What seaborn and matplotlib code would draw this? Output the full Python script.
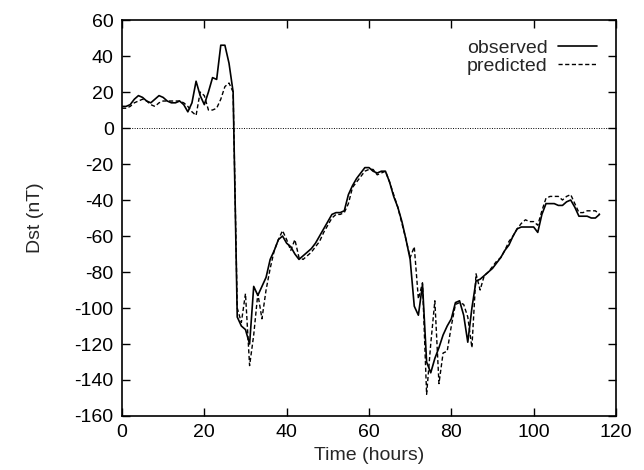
import numpy as np
import pandas as pd
import matplotlib
matplotlib.use("Agg")
import matplotlib.pyplot as plt
import seaborn as sns

# ── Data (hourly samples) ─────────────────────────────────────────────────
hours = list(range(117))

observed = [
    12, 12, 13, 16, 18, 17, 15, 14, 16, 18,      # 0-9
    17, 15, 14, 14, 15, 13, 9, 14, 26, 18,       # 10-19
    13, 20, 28, 27, 46, 46, 36, 20, -105, -110,  # 20-29
    -112, -120, -88, -93, -88, -83, -73, -68, -62, -60,   # 30-39
    -64, -66, -70, -73, -71, -69, -67, -64, -60, -56,     # 40-49
    -52, -48, -47, -47, -46, -37, -32, -28, -25, -22,     # 50-59
    -22, -24, -25, -24, -24, -30, -38, -44, -52, -62,     # 60-69
    -73, -99, -104, -87, -130, -136, -128, -122, -115, -110,  # 70-79
    -106, -97, -96, -104, -119, -100, -85, -84, -82, -80,     # 80-89
    -78, -75, -72, -68, -65, -60, -56, -55, -55, -55,         # 90-99
    -55, -58, -48, -42, -42, -42, -43, -43, -41, -40,         # 100-109
    -44, -49, -49, -49, -50, -50, -48,                        # 110-116
]

predicted = [
    11, 11, 12, 14, 15, 16, 15, 13, 12, 14,      # 0-9
    15, 15, 15, 15, 15, 14, 12, 9, 7, 20,        # 10-19
    18, 10, 10, 11, 16, 23, 25, 20, -100, -108,  # 20-29
    -92, -132, -115, -92, -106, -90, -78, -68, -62, -57,  # 30-39
    -62, -68, -62, -72, -73, -71, -69, -66, -63, -58,     # 40-49
    -54, -50, -48, -48, -47, -42, -33, -30, -27, -24,     # 50-59
    -23, -23, -26, -25, -24, -30, -37, -44, -53, -62,     # 60-69
    -72, -66, -95, -86, -148, -120, -96, -142, -125, -124,  # 70-79
    -110, -98, -97, -98, -105, -122, -81, -90, -82, -80,    # 80-89
    -77, -74, -72, -68, -63, -60, -56, -53, -51, -52,       # 90-99
    -52, -54, -46, -39, -38, -38, -38, -40, -38, -37,       # 100-109
    -42, -47, -47, -46, -46, -46, -48,                      # 110-116
]

df = pd.DataFrame({"hour": hours, "observed": observed, "predicted": predicted})

# ── Style ─────────────────────────────────────────────────────────────────
sns.set_style("ticks")
plt.rcParams["font.family"] = ["Liberation Sans", "DejaVu Sans"]
plt.rcParams["font.size"] = 14
plt.rcParams["axes.unicode_minus"] = False

fig = plt.figure(figsize=(6.44, 4.70), dpi=100)
ax = fig.add_axes([0.1894, 0.1149, 0.7671, 0.8425])

ax.axhline(0, color="black", lw=0.7, ls=(0, (1, 1.5)), zorder=1)

sns.lineplot(data=df, x="hour", y="observed", ax=ax, color="black",
             lw=1.2, label="observed")
sns.lineplot(data=df, x="hour", y="predicted", ax=ax, color="black",
             lw=1.0, ls=(0, (3, 1.8)), label="predicted")

ax.set_xlim(0, 120)
ax.set_ylim(-160, 60)
ax.set_xticks(np.arange(0, 121, 20))
ax.set_yticks(np.arange(-160, 61, 20))
ax.tick_params(direction="in", length=6, width=1, top=True, right=True,
               labelsize=14, pad=6, colors="black")
for s in ax.spines.values():
    s.set_linewidth(1.2)
    s.set_color("black")

ax.set_xlabel("Time (hours)", fontsize=14, labelpad=4)
ax.set_ylabel("Dst (nT)", fontsize=14, labelpad=22)

ax.legend(loc="upper right", frameon=False, markerfirst=False,
          fontsize=14, handlelength=2.0, handletextpad=0.5,
          labelspacing=0.0, borderaxespad=0.6)

fig.savefig("out.png", dpi=100)
